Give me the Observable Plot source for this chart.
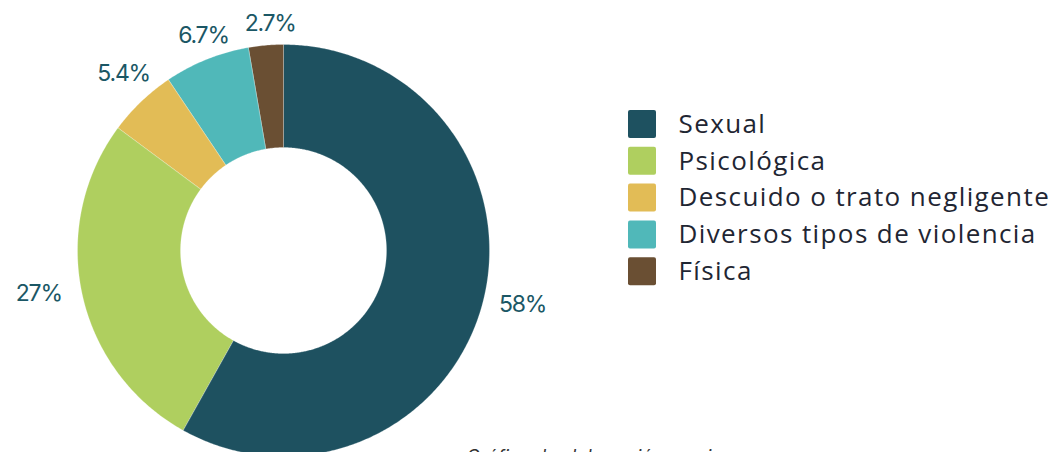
<!DOCTYPE html>
<html>
<head>
<meta charset="utf-8">
<script src="https://cdn.jsdelivr.net/npm/d3@7"></script>
<script src="https://cdn.jsdelivr.net/npm/@observablehq/plot@0.6"></script>
<style>
  html, body { margin: 0; padding: 0; background: #fff; }
  #chart svg { display: block; }
</style>
</head>
<body>
<div id="chart"></div>
<script>
const categories = ["Sexual", "Psicológica", "Descuido o trato negligente", "Diversos tipos de violencia", "Física"];
const values = [58, 27, 5.4, 6.7, 2.7];
const valueLabels = ["58%", "27%", "5.4%", "6.7%", "2.7%"];
const colors = ["#1e5160", "#afcf5f", "#e2bc56", "#50b8b9", "#6a4f33"];
const caption = "Gráfico de elaboración propia";

const W = 1053, H = 452;
const cx = 283, cy = 250, r0 = 103, r1 = 206;

const pie = d3.pie().sort(null).value(d => d)(values);

// ring polygons
const ring = [];
pie.forEach((p, i) => {
  const a0 = p.startAngle, a1 = p.endAngle;
  const n = Math.max(2, Math.ceil((a1 - a0) / (Math.PI / 360)));
  for (let k = 0; k <= n; k++) {
    const a = a0 + (a1 - a0) * k / n;
    ring.push({cat: categories[i], x: cx + r1 * Math.sin(a), y: cy - r1 * Math.cos(a)});
  }
  for (let k = n; k >= 0; k--) {
    const a = a0 + (a1 - a0) * k / n;
    ring.push({cat: categories[i], x: cx + r0 * Math.sin(a), y: cy - r0 * Math.cos(a)});
  }
});

const labelData = pie.map((p, i) => {
  const a = (p.startAngle + p.endAngle) / 2;
  const s2 = Math.sin(a) ** 2;
  const r = 227 + 23 * s2;
  return {text: valueLabels[i], x: cx + r * Math.sin(a) + 6 * Math.cos(a), y: cy - r * Math.cos(a) - 9 * s2};
});

const legend = categories.map((c, i) => ({cat: c, row: i}));
const lx = 628, ly = 110, sw = 28, step = 36.8;

const plot = Plot.plot({
  width: W, height: H,
  margin: 0,
  x: {domain: [0, W], range: [0, W], axis: null},
  y: {domain: [0, H], range: [0, H], axis: null},
  color: {domain: categories, range: colors},
  style: {fontFamily: "Inter, 'Noto Sans', sans-serif", background: "white"},
  marks: [
    Plot.line(ring, {x: "x", y: "y", z: "cat", fill: "cat", stroke: "white", strokeWidth: 0.4, strokeOpacity: 0.6, curve: "linear-closed"}),
    Plot.text(labelData, {x: "x", y: "y", text: "text", fill: "#1b5765", fontSize: 23}),
    Plot.rect(legend, {x1: () => lx, x2: () => lx + sw, y1: d => ly + d.row * step, y2: d => ly + d.row * step + sw, fill: "cat", rx: 2}),
    Plot.text(legend, {x: () => 678, y: d => ly + d.row * step + sw / 2, text: "cat", textAnchor: "start", fill: "#1f2633", fontSize: 26, fontFamily: "'Open Sans', sans-serif"}),
    Plot.text([caption], {x: () => 466, y: () => 457, text: d => d, textAnchor: "start", fill: "#333", fontSize: 18, fontStyle: "italic"})
  ]
});
// letter spacing tweaks
d3.select(plot).selectAll("text").each(function() {
  const t = this.textContent;
  if (categories.includes(t)) this.setAttribute("letter-spacing", "1.4");
  else if (valueLabels.includes(t)) this.setAttribute("letter-spacing", "-1.2");
});
document.getElementById("chart").appendChild(plot);
</script>
</body>
</html>
